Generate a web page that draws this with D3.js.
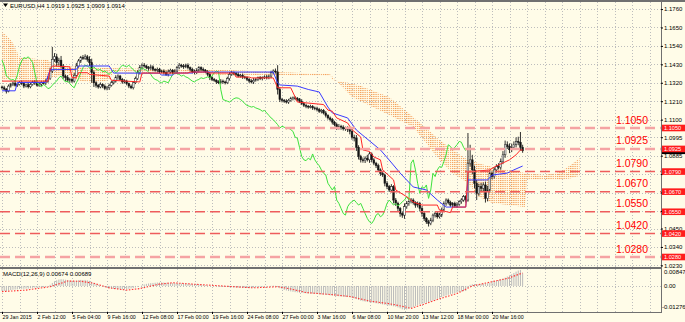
<!DOCTYPE html>
<html>
<head>
<meta charset="utf-8">
<script src="https://cdn.jsdelivr.net/npm/d3@7"></script>
<style>
body { margin: 0; background: #fffce8; }
.chart svg { display: block; font-family: "Liberation Sans", Arial, sans-serif; }
</style>
</head>
<body>
<div class="chart"></div>
<script>
const width = 685
const height = 322

const symbolTitle = "EURUSD,H4  1.0919 1.0925 1.0909 1.0914"
const macdTitle = "MACD(12,26,9) 0.00674 0.00689"

// one label every 16 H4 bars
const timeLabels = ["29 Jan 2015", "2 Feb 12:00", "5 Feb 04:00", "9 Feb 16:00", "12 Feb 08:00",
    "17 Feb 00:00", "19 Feb 16:00", "24 Feb 08:00", "27 Feb 00:00", "3 Mar 16:00",
    "6 Mar 08:00", "10 Mar 20:00", "13 Mar 12:00", "18 Mar 00:00", "20 Mar 16:00"]
const priceTicks = [1.1760, 1.1650, 1.1540, 1.1430, 1.1320, 1.1210, 1.1100, 1.0995,
    1.0885, 1.0775, 1.0665, 1.0555, 1.0450, 1.0340, 1.0230]
const levels = [1.1050, 1.0925, 1.0790, 1.0670, 1.0550, 1.0420, 1.0280]
const paleLevels = [1.1050, 1.0925, 1.0280]
const lastPrice = 1.0914
const firstOpen = 1.1295

const closes = [
    1.1290, 1.1282, 1.1270, 1.1300, 1.1312, 1.1318, 1.1305, 1.1310, 1.1322, 1.1315,
    1.1300, 1.1308, 1.1296, 1.1310, 1.1325, 1.1318, 1.1305, 1.1312, 1.1320, 1.1316,
    1.1330, 1.1345, 1.1390, 1.1460, 1.1475, 1.1440, 1.1455, 1.1420, 1.1360, 1.1350,
    1.1335, 1.1340, 1.1330, 1.1365, 1.1420, 1.1450, 1.1470, 1.1465, 1.1475, 1.1460,
    1.1440, 1.1380, 1.1320, 1.1305, 1.1295, 1.1310, 1.1300, 1.1285, 1.1290, 1.1305,
    1.1320, 1.1330, 1.1350, 1.1360, 1.1340, 1.1325, 1.1330, 1.1315, 1.1300, 1.1290,
    1.1320, 1.1345, 1.1380, 1.1410, 1.1425, 1.1420, 1.1410, 1.1405, 1.1415, 1.1400,
    1.1395, 1.1400, 1.1385, 1.1390, 1.1380, 1.1370, 1.1385, 1.1395, 1.1380, 1.1390,
    1.1410, 1.1425, 1.1420, 1.1415, 1.1425, 1.1410, 1.1400, 1.1385, 1.1380, 1.1395,
    1.1410, 1.1400, 1.1395, 1.1385, 1.1370, 1.1350, 1.1340, 1.1335, 1.1325, 1.1320,
    1.1330, 1.1325, 1.1320, 1.1345, 1.1370, 1.1380, 1.1375, 1.1370, 1.1360, 1.1365,
    1.1355, 1.1350, 1.1340, 1.1330, 1.1325, 1.1335, 1.1340, 1.1350, 1.1345, 1.1350,
    1.1355, 1.1350, 1.1360, 1.1380, 1.1390, 1.1385, 1.1280, 1.1220, 1.1215, 1.1210,
    1.1205, 1.1215, 1.1225, 1.1230, 1.1228, 1.1220, 1.1210, 1.1195, 1.1185, 1.1180,
    1.1175, 1.1178, 1.1170, 1.1165, 1.1160, 1.1150, 1.1155, 1.1140, 1.1125, 1.1110,
    1.1100, 1.1085, 1.1070, 1.1050, 1.1060, 1.1055, 1.1045, 1.1050, 1.1040, 1.1030,
    1.0995, 1.0990, 1.0935, 1.0880, 1.0860, 1.0855, 1.0870, 1.0860, 1.0895, 1.0860,
    1.0840, 1.0825, 1.0800, 1.0780, 1.0770, 1.0720, 1.0700, 1.0680, 1.0700, 1.0620,
    1.0600, 1.0570, 1.0540, 1.0530, 1.0580, 1.0600, 1.0610, 1.0620, 1.0605, 1.0590,
    1.0600, 1.0570, 1.0540, 1.0510, 1.0490, 1.0480, 1.0500, 1.0530, 1.0540, 1.0520,
    1.0530, 1.0560, 1.0600, 1.0620, 1.0605, 1.0590, 1.0600, 1.0585, 1.0595, 1.0610,
    1.0620, 1.0640, 1.0620, 1.0840, 1.0860, 1.0800, 1.0720, 1.0660, 1.0700, 1.0690,
    1.0710, 1.0630, 1.0680, 1.0780, 1.0760, 1.0800, 1.0820, 1.0815, 1.0850, 1.0890,
    1.0950, 1.0940, 1.0920, 1.0935, 1.0950, 1.0970, 1.0965, 1.0935, 1.0914]

const upperWickPips = [
    8, 12, 6, 10, 7, 9, 14, 6, 8, 11, 9, 7, 12, 8, 6, 10, 13, 7, 9, 8,
    11, 15, 20, 74, 22, 18, 14, 25, 12, 9, 16, 10, 8, 14, 19, 12, 10, 15, 15, 11,
    18, 24, 13, 9, 8, 12, 7, 10, 11, 9, 12, 8, 15, 10, 7, 9, 11, 8, 6, 10,
    9, 12, 14, 16, 11, 13, 8, 10, 12, 9, 7, 11, 9, 8, 10, 12, 14, 9, 7, 11,
    10, 13, 8, 12, 9, 11, 7, 10, 14, 12, 9, 8, 11, 7, 10, 13, 9, 8, 6, 10,
    12, 9, 8, 11, 14, 10, 7, 9, 12, 8, 10, 7, 9, 8, 11, 13, 9, 7, 10, 8,
    9, 11, 8, 12, 10, 15, 40, 14, 10, 8, 12, 9, 11, 8, 10, 7, 9, 12, 8, 10,
    7, 11, 9, 8, 12, 10, 9, 8, 11, 7, 9, 10, 8, 12, 14, 9, 11, 8, 10, 13,
    25, 15, 18, 12, 10, 14, 11, 20, 12, 9, 10, 8, 12, 9, 11, 8, 13, 10, 15, 9,
    12, 10, 8, 11, 20, 14, 9, 12, 10, 8, 11, 9, 13, 10, 8, 12, 14, 9, 11, 10,
    13, 15, 12, 10, 9, 11, 8, 10, 12, 9, 11, 10, 9, 180, 90, 30, 25, 20, 18, 22,
    15, 20, 25, 18, 12, 16, 14, 20, 18, 22, 25, 20, 18, 22, 20, 24, 28, 61, 15]
const lowerWickPips = [
    10, 8, 14, 7, 9, 12, 8, 10, 6, 9, 12, 8, 10, 9, 7, 11, 8, 9, 12, 7,
    9, 10, 8, 12, 15, 20, 18, 14, 16, 20, 12, 15, 11, 9, 8, 10, 12, 9, 8, 14,
    20, 60, 25, 14, 10, 8, 12, 9, 10, 13, 8, 10, 9, 12, 7, 11, 9, 10, 12, 8,
    10, 8, 9, 11, 12, 10, 9, 12, 8, 11, 9, 12, 10, 8, 11, 9, 12, 10, 8, 9,
    11, 9, 10, 12, 8, 10, 13, 9, 10, 8, 10, 12, 9, 8, 11, 14, 10, 9, 12, 8,
    9, 11, 10, 8, 12, 9, 10, 11, 8, 9, 12, 8, 10, 11, 9, 12, 8, 10, 9, 11,
    8, 10, 9, 12, 8, 10, 30, 15, 12, 10, 9, 11, 8, 10, 12, 9, 11, 8, 10, 12,
    10, 8, 12, 9, 11, 10, 13, 9, 12, 10, 11, 14, 10, 12, 9, 15, 10, 12, 14, 18,
    15, 20, 22, 18, 16, 12, 14, 10, 18, 15, 12, 14, 10, 16, 12, 18, 15, 12, 14, 20,
    15, 18, 20, 16, 22, 12, 14, 10, 12, 16, 14, 18, 20, 15, 12, 18, 10, 12, 14, 11,
    10, 12, 9, 14, 11, 10, 12, 9, 11, 10, 12, 10, 15, 10, 20, 25, 30, 40, 15, 18,
    20, 25, 18, 14, 16, 12, 15, 12, 14, 16, 18, 15, 20, 14, 12, 16, 18, 20, 12]

// [bar, price]
const tenkan = [[0, 1.1330], [21, 1.1330], [22, 1.1400], [23, 1.1420], [31, 1.1415], [32, 1.1350],
    [34, 1.1350], [35, 1.1380], [39, 1.1380], [40, 1.1370], [49, 1.1360], [50, 1.1335], [63, 1.1325],
    [64, 1.1378], [85, 1.1378], [86, 1.1384], [94, 1.1384], [95, 1.1378], [106, 1.1378], [107, 1.1354],
    [113, 1.1354], [114, 1.1349], [124, 1.1349], [126, 1.1290], [132, 1.1290], [134, 1.1235],
    [135, 1.1205], [147, 1.1190], [149, 1.1157], [151, 1.1150], [153, 1.1110], [158, 1.1080],
    [160, 1.1040], [164, 1.0996], [165, 1.0919], [168, 1.0910], [170, 1.0877], [173, 1.0860],
    [174, 1.0800], [179, 1.0740], [180, 1.0680], [185, 1.0640], [188, 1.0608], [192, 1.0590],
    [199, 1.0590], [200, 1.0560], [205, 1.0545], [206, 1.0578], [212, 1.0578], [213, 1.0787],
    [223, 1.0800], [225, 1.0817], [232, 1.0860], [235, 1.0890], [237, 1.0919], [238, 1.0919]]
const kijun = [[0, 1.1272], [6, 1.1272], [7, 1.1322], [20, 1.1322], [22, 1.1398], [34, 1.1400],
    [35, 1.1420], [49, 1.1420], [51, 1.1378], [72, 1.1377], [73, 1.1366], [78, 1.1366], [79, 1.1378],
    [87, 1.1378], [88, 1.1384], [124, 1.1384], [126, 1.1319], [127, 1.1307], [135, 1.1300],
    [140, 1.1280], [145, 1.1265], [149, 1.1175], [151, 1.1140], [158, 1.1110], [162, 1.1038],
    [173, 1.0919], [177, 1.0859], [182, 1.0781], [188, 1.0698], [194, 1.0680], [199, 1.0620],
    [203, 1.0578], [212, 1.0578], [213, 1.0740], [222, 1.0740], [224, 1.0769], [231, 1.0781],
    [234, 1.0800], [238, 1.0823]]

const cloudBars = [0, 2, 5, 8, 11, 21, 22, 30, 34, 42, 49, 51, 104, 125, 150, 151, 160, 164,
    177, 188, 200, 206, 213, 218, 224, 239, 240, 248, 255, 260, 264]
const spanA = [1.1623, 1.1605, 1.1557, 1.1474, 1.1468, 1.1456, 1.1444, 1.1420, 1.1414, 1.1410,
    1.1408, 1.1406, 1.1396, 1.1384, 1.1372, 1.1337, 1.1316, 1.1301, 1.1235, 1.1116, 1.0978,
    1.0920, 1.0859, 1.0840, 1.0817, 1.0781, 1.0778, 1.0769, 1.0787, 1.0829, 1.0871]
const spanB = [1.1337, 1.1340, 1.1349, 1.1337, 1.1325, 1.1325, 1.1349, 1.1372, 1.1337, 1.1319,
    1.1337, 1.1384, 1.1366, 1.1366, 1.1360, 1.1358, 1.1235, 1.1210, 1.1128, 1.1056, 1.0859,
    1.0781, 1.0722, 1.0638, 1.0602, 1.0578, 1.0740, 1.0742, 1.0740, 1.0750, 1.0763]

const macdMain = [
    -0.0026, -0.0027, -0.0028, -0.0025, -0.0022, -0.0020, -0.0019, -0.0018, -0.0016, -0.0015,
    -0.0015, -0.0014, -0.0014, -0.0012, -0.0010, -0.0009, -0.0009, -0.0008, -0.0006, -0.0005,
    -0.0003, -0.0001, 0.0006, 0.0016, 0.0025, 0.0030, 0.0034, 0.0036, 0.0035, 0.0033,
    0.0031, 0.0029, 0.0027, 0.0026, 0.0028, 0.0030, 0.0032, 0.0031, 0.0032, 0.0030,
    0.0027, 0.0022, 0.0016, 0.0011, 0.0006, 0.0002, -0.0002, -0.0006, -0.0009, -0.0012,
    -0.0014, -0.0015, -0.0016, -0.0017, -0.0018, -0.0018, -0.0017, -0.0016, -0.0015, -0.0013,
    -0.0011, -0.0008, -0.0004, 0.0000, 0.0004, 0.0008, 0.0011, 0.0013, 0.0015, 0.0016,
    0.0017, 0.0018, 0.0018, 0.0019, 0.0018, 0.0017, 0.0016, 0.0016, 0.0015, 0.0015,
    0.0014, 0.0014, 0.0013, 0.0013, 0.0012, 0.0012, 0.0011, 0.0010, 0.0009, 0.0009,
    0.0008, 0.0007, 0.0006, 0.0004, 0.0003, 0.0001, 0.0000, -0.0001, -0.0002, -0.0003,
    -0.0004, -0.0005, -0.0005, -0.0006, -0.0006, -0.0007, -0.0008, -0.0008, -0.0009, -0.0009,
    -0.0010, -0.0010, -0.0011, -0.0011, -0.0010, -0.0009, -0.0007, -0.0005, -0.0004, -0.0003,
    -0.0002, -0.0001, 0.0000, 0.0001, 0.0002, 0.0001, -0.0006, -0.0012, -0.0017, -0.0021,
    -0.0024, -0.0027, -0.0029, -0.0031, -0.0033, -0.0034, -0.0036, -0.0037, -0.0038, -0.0039,
    -0.0040, -0.0041, -0.0041, -0.0042, -0.0043, -0.0044, -0.0045, -0.0046, -0.0047, -0.0048,
    -0.0050, -0.0051, -0.0052, -0.0054, -0.0055, -0.0056, -0.0057, -0.0058, -0.0059, -0.0060,
    -0.0063, -0.0066, -0.0070, -0.0074, -0.0078, -0.0081, -0.0083, -0.0085, -0.0086, -0.0088,
    -0.0090, -0.0092, -0.0094, -0.0096, -0.0098, -0.0100, -0.0102, -0.0104, -0.0106, -0.0108,
    -0.0110, -0.0114, -0.0119, -0.0124, -0.0127, -0.0125, -0.0121, -0.0117, -0.0112, -0.0107,
    -0.0102, -0.0098, -0.0095, -0.0092, -0.0089, -0.0086, -0.0082, -0.0078, -0.0073, -0.0068,
    -0.0063, -0.0059, -0.0055, -0.0051, -0.0047, -0.0044, -0.0041, -0.0038, -0.0035, -0.0032,
    -0.0030, -0.0028, -0.0027, -0.0010, 0.0006, 0.0009, 0.0010, 0.0008, 0.0009, 0.0011,
    0.0013, 0.0012, 0.0014, 0.0018, 0.0021, 0.0024, 0.0028, 0.0031, 0.0035, 0.0039,
    0.0044, 0.0050, 0.0056, 0.0062, 0.0069, 0.0076, 0.0082, 0.0085, 0.0067]
// [bar, value]
const macdSignal = [[0, -0.0030], [11, -0.0022], [22, -0.0004], [30, 0.0026], [36, 0.0025],
    [42, 0.0014], [49, -0.0010], [57, -0.0022], [63, -0.0014], [72, 0.0010], [78, 0.0017],
    [91, 0.0007], [106, -0.0004], [115, -0.0010], [126, -0.0004], [132, -0.0016], [139, -0.0035],
    [151, -0.0046], [159, -0.0056], [168, -0.0080], [177, -0.0094], [183, -0.0108], [187, -0.0119],
    [192, -0.0100], [200, -0.0068], [208, -0.0040], [215, 0.0000], [223, 0.0020], [231, 0.0040],
    [238, 0.0069]]
const macdTicks = [0.00847, 0, -0.01276]
const macdTickLabels = ["0.00847", "0.00", "-0.01276"]

const chikouShift = 26
const barsPerLabel = 16

const plotRight = 661
const mainTop = 2
const mainBottom = 267
const macdTop = 269
const macdBottom = 312

const svg = d3.select(".chart")
    .append("svg")
    .attr("width", width)
    .attr("height", height)

svg.append("rect").attr("width", width).attr("height", height).attr("fill", "#fffce8")

const x = d3.scaleLinear().domain([0, barsPerLabel]).range([2, 37])
const y = d3.scaleLinear().domain([1.0280, 1.1050]).range([257, 128])
const yMacd = d3.scaleLinear().domain([-0.01276, 0.00847]).range([310, 270])
const snap = v => Math.round(v) + 0.5
const boxH = 6.6
// scale labels that sit under a level box are not readable in the chart
const coveredTick = p => levels.some(l => Math.abs(y(l) - y(p)) < 4)

const defs = svg.append("defs")
defs.append("clipPath").attr("id", "clipMain")
    .append("rect").attr("x", 0).attr("y", mainTop).attr("width", plotRight).attr("height", mainBottom - mainTop)
defs.append("clipPath").attr("id", "clipMacd")
    .append("rect").attr("x", 0).attr("y", macdTop).attr("width", plotRight).attr("height", macdBottom - macdTop)
defs.append("pattern").attr("id", "kumo")
    .attr("patternUnits", "userSpaceOnUse")
    .attr("x", x(0) - 0.6).attr("y", 0)
    .attr("width", x(1) - x(0)).attr("height", 2)
    .append("rect").attr("width", 1.2).attr("height", 1.1).attr("fill", "#f4a05a")

//grid
const grid = svg.append("g")
    .attr("stroke", "#bdbdbd")
    .attr("stroke-dasharray", "1,2")
grid.selectAll("line.h").data(priceTicks).join("line")
    .attr("class", "h")
    .attr("x1", 0).attr("x2", plotRight)
    .attr("y1", d => snap(y(d))).attr("y2", d => snap(y(d)))
const gridBars = d3.range(0, 320, barsPerLabel / 2).filter(b => x(b) < plotRight)
grid.selectAll("line.v").data(gridBars).join("line")
    .attr("class", "v")
    .attr("x1", d => snap(x(d))).attr("x2", d => snap(x(d)))
    .attr("y1", mainTop).attr("y2", macdBottom)
grid.append("line")
    .attr("x1", 0).attr("x2", plotRight)
    .attr("y1", snap(yMacd(0))).attr("y2", snap(yMacd(0)))

const main = svg.append("g").attr("clip-path", "url(#clipMain)")

// ichimoku cloud
const cloud = cloudBars.map((b, i) => ({b: b, a: spanA[i], s: spanB[i]}))
main.append("path")
    .datum(cloud)
    .attr("fill", "url(#kumo)")
    .attr("d", d3.area().x(d => x(d.b)).y0(d => y(d.a)).y1(d => y(d.s)))

// candles
const candles = closes.map((c, i) => {
    const o = i ? closes[i - 1] : firstOpen
    return {i: i, o: o, c: c,
        h: Math.max(o, c) + upperWickPips[i] / 10000,
        l: Math.min(o, c) - lowerWickPips[i] / 10000}
})
main.selectAll("line.wick").data(candles).join("line")
    .attr("class", "wick")
    .attr("x1", d => x(d.i)).attr("x2", d => x(d.i))
    .attr("y1", d => y(d.h)).attr("y2", d => y(d.l))
    .attr("stroke", "#1a1a1a")
    .attr("stroke-width", 0.9)
main.selectAll("rect.body").data(candles).join("rect")
    .attr("class", "body")
    .attr("x", d => x(d.i) - 0.85)
    .attr("width", 1.7)
    .attr("y", d => y(Math.max(d.o, d.c)))
    .attr("height", d => Math.max(0.8, Math.abs(y(d.o) - y(d.c))))
    .attr("fill", d => d.c >= d.o ? "#ffffff" : "#111111")
    .attr("stroke", "#1a1a1a")
    .attr("stroke-width", 0.5)

const line = d3.line().x(d => x(d[0])).y(d => y(d[1]))
main.append("path")
    .datum(closes.slice(chikouShift).map((c, i) => [i, c]))
    .attr("fill", "none").attr("stroke", "#3de23d").attr("stroke-width", 1)
    .attr("d", line)
main.append("path")
    .datum(kijun)
    .attr("fill", "none").attr("stroke", "#3b3bff").attr("stroke-width", 1)
    .attr("d", line)
main.append("path")
    .datum(tenkan)
    .attr("fill", "none").attr("stroke", "#ff2626").attr("stroke-width", 1)
    .attr("d", line)

// horizontal levels
main.selectAll("line.level").data(levels).join("line")
    .attr("class", "level")
    .attr("x1", 0).attr("x2", plotRight)
    .attr("y1", d => y(d)).attr("y2", d => y(d))
    .attr("stroke", d => paleLevels.includes(d) ? "#f5a3a3" : "#ee5c5c")
    .attr("stroke-width", d => paleLevels.includes(d) ? 2.4 : 1.5)
    .attr("stroke-dasharray", "10,5")
main.selectAll("text.level").data(levels).join("text")
    .attr("class", "level")
    .attr("x", 648)
    .attr("y", d => y(d) - 4.5)
    .attr("text-anchor", "end")
    .attr("fill", "#ff0000")
    .attr("font-size", 10.5)
    .text(d => d.toFixed(4))

// macd pane
const macd = svg.append("g").attr("clip-path", "url(#clipMacd)")
macd.selectAll("line").data(macdMain).join("line")
    .attr("x1", (d, i) => x(i)).attr("x2", (d, i) => x(i))
    .attr("y1", yMacd(0)).attr("y2", d => yMacd(d))
    .attr("stroke", "#b9b9b9")
    .attr("stroke-width", 1)
macd.append("path")
    .datum(macdSignal)
    .attr("fill", "none").attr("stroke", "#ff3535").attr("stroke-width", 1.1)
    .attr("stroke-dasharray", "1.5,1.5")
    .attr("d", d3.line().x(d => x(d[0])).y(d => yMacd(d[1])))

// frame
const frame = svg.append("g").attr("stroke", "#707070")
frame.append("line").attr("x1", 0).attr("x2", width).attr("y1", 1).attr("y2", 1).attr("stroke-width", 2)
frame.append("line").attr("x1", plotRight + 0.5).attr("x2", plotRight + 0.5).attr("y1", 1).attr("y2", macdBottom + 1)
frame.append("line").attr("x1", 0).attr("x2", plotRight).attr("y1", 268).attr("y2", 268).attr("stroke-width", 2)
frame.append("line").attr("x1", 0).attr("x2", plotRight).attr("y1", macdBottom + 0.5).attr("y2", macdBottom + 0.5)

// axes
const yAxis = svg.append("g")
    .attr("transform", `translate(${plotRight}, 0)`)
    .call(d3.axisRight(y)
        .tickValues(priceTicks)
        .tickSize(2).tickPadding(1)
        .tickFormat(d => coveredTick(d) ? "" : d.toFixed(4)))
    .attr("font-size", 6).attr("font-family", null)
yAxis.select(".domain").remove()

const tAxis = svg.append("g")
    .attr("transform", `translate(0, ${macdBottom})`)
    .call(d3.axisBottom(x)
        .tickValues(timeLabels.map((d, i) => i * barsPerLabel))
        .tickFormat((d, i) => timeLabels[i])
        .tickSize(2).tickPadding(1))
    .attr("font-size", 5.3).attr("font-family", null)
tAxis.select(".domain").remove()
tAxis.selectAll("text").attr("text-anchor", "start").attr("dx", 0)

const mAxis = svg.append("g").attr("font-size", 6)
mAxis.selectAll("text").data(macdTicks).join("text")
    .attr("x", (d, i) => i === 2 ? plotRight + 1 : plotRight + 3)
    .attr("y", (d, i) => yMacd(d) + [4, 2.5, -1][i])
    .text((d, i) => macdTickLabels[i])

// price boxes on the scale
const boxes = svg.append("g").attr("font-size", 5.6)
boxes.append("rect")
    .attr("x", plotRight + 1).attr("width", width - plotRight - 1)
    .attr("y", y(lastPrice) - boxH / 2).attr("height", boxH)
    .attr("fill", "#000000")
boxes.selectAll("rect.lv").data(levels).join("rect")
    .attr("class", "lv")
    .attr("x", plotRight + 1).attr("width", width - plotRight - 1)
    .attr("y", d => y(d) - boxH / 2).attr("height", boxH)
    .attr("fill", "#ff1c1c")
boxes.selectAll("text").data(levels).join("text")
    .attr("x", plotRight + 3)
    .attr("y", d => y(d) + 2)
    .attr("fill", "#ffffff")
    .text(d => d.toFixed(4))

// titles
svg.append("path").attr("d", "M3,3.5L8,3.5L5.5,7Z").attr("fill", "#000")
svg.append("text").attr("x", 10).attr("y", 7.5).attr("font-size", 6).text(symbolTitle)
svg.append("text").attr("x", 3).attr("y", 276).attr("font-size", 6).text(macdTitle)
</script>
</body>
</html>
